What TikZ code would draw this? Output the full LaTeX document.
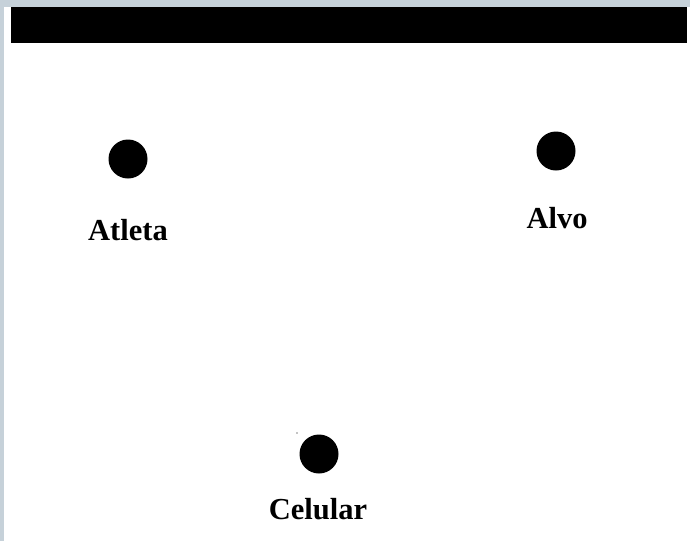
\documentclass[tikz,border=0pt]{standalone}
\usepackage{fontspec}
\setmainfont{Liberation Serif}
\definecolor{framegray}{HTML}{C6D1D9}
\tikzset{
  dot/.style={circle, fill=black, inner sep=0pt, minimum size=39pt},
  lbl/.style={anchor=base, inner sep=0pt, font=\fontsize{30.5}{34}\selectfont\bfseries},
}
\begin{document}
\begin{tikzpicture}[x=1pt, y=-1pt]
  % page and window frame
  \fill[white] (0,0) rectangle (690,541);
  \useasboundingbox (0,0) rectangle (690,541);
  \fill[framegray] (0,0) rectangle (690,7);
  \fill[framegray] (0,0) rectangle (3.5,541);
  % title bar
  \fill[black] (11,7) rectangle (687,43);
  % points
  \node[dot] (atleta) at (128,159) {};
  \node[dot] (alvo) at (556,151) {};
  \node[dot] (celular) at (319,454) {};
  \fill[black] (297,433) circle (0.7);
  % labels
  \node[lbl] (atletalbl) at (128,240) {Atleta};
  \node[lbl] (alvolbl) at (557,228) {Alvo};
  \node[lbl] (celularlbl) at (318,519) {Celular};
\end{tikzpicture}
\end{document}
